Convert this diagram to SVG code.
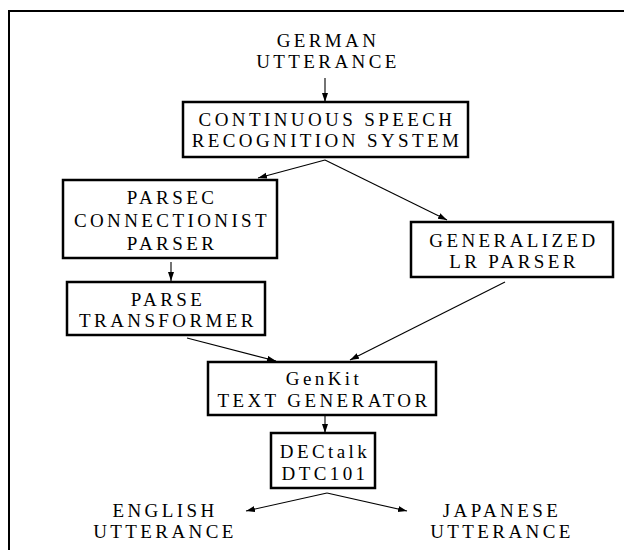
<svg xmlns="http://www.w3.org/2000/svg" width="624" height="550" viewBox="0 0 624 550" font-family="Liberation Serif, serif">
<style>
text{font-size:19px;letter-spacing:3.4px;text-anchor:middle;fill:#000}
.box{fill:#fff;stroke:#000;stroke-width:2.5}
.frame{fill:none;stroke:#000;stroke-width:2}
.conn{fill:none;stroke:#000;stroke-width:1.1}
</style>
<defs>
<marker id="ah" markerUnits="userSpaceOnUse" markerWidth="10" markerHeight="8" refX="9" refY="3" orient="auto">
<path d="M0,0 L9,3 L0,6 z" fill="#000"/>
</marker>
</defs>
<rect x="0" y="0" width="624" height="550" fill="#fff"/>
<path class="frame" d="M9,550 V11 H624"/>
<g id="connectors">
<line class="conn" x1="325" y1="78" x2="325" y2="102" marker-end="url(#ah)"/>
<line class="conn" x1="325" y1="160" x2="258" y2="178" marker-end="url(#ah)"/>
<line class="conn" x1="325" y1="160" x2="447" y2="220" marker-end="url(#ah)"/>
<line class="conn" x1="171" y1="262" x2="171" y2="281" marker-end="url(#ah)"/>
<line class="conn" x1="187" y1="338" x2="276" y2="361" marker-end="url(#ah)"/>
<line class="conn" x1="505" y1="282" x2="350" y2="360" marker-end="url(#ah)"/>
<line class="conn" x1="325" y1="415" x2="325" y2="433" marker-end="url(#ah)"/>
<line class="conn" x1="327" y1="493" x2="246" y2="511" marker-end="url(#ah)"/>
<line class="conn" x1="327" y1="493" x2="407" y2="511" marker-end="url(#ah)"/>
</g>
<g id="german">
<text x="328" y="47">GERMAN</text>
<text x="328" y="68">UTTERANCE</text>
</g>
<g id="csr">
<rect class="box" x="183" y="102" width="285" height="55"/>
<text x="327" y="126">CONTINUOUS SPEECH</text>
<text x="327" y="147">RECOGNITION SYSTEM</text>
</g>
<g id="parsec">
<rect class="box" x="63" y="180" width="214" height="78"/>
<text x="172" y="204">PARSEC</text>
<text x="172" y="227">CONNECTIONIST</text>
<text x="172" y="250">PARSER</text>
</g>
<g id="transformer">
<rect class="box" x="67" y="282" width="198" height="53"/>
<text x="168" y="306">PARSE</text>
<text x="168" y="327">TRANSFORMER</text>
</g>
<g id="glr">
<rect class="box" x="411" y="222" width="202" height="55"/>
<text x="514" y="247">GENERALIZED</text>
<text x="514" y="268">LR PARSER</text>
</g>
<g id="genkit">
<rect class="box" x="208" y="362" width="228" height="53"/>
<text x="324" y="385">GenKit</text>
<text x="324" y="407">TEXT GENERATOR</text>
</g>
<g id="dectalk">
<rect class="box" x="271" y="433" width="104" height="55"/>
<text x="325" y="458">DECtalk</text>
<text x="325" y="480">DTC101</text>
</g>
<g id="english">
<text x="165" y="517">ENGLISH</text>
<text x="165" y="538">UTTERANCE</text>
</g>
<g id="japanese">
<text x="502" y="517">JAPANESE</text>
<text x="502" y="538">UTTERANCE</text>
</g>
</svg>
